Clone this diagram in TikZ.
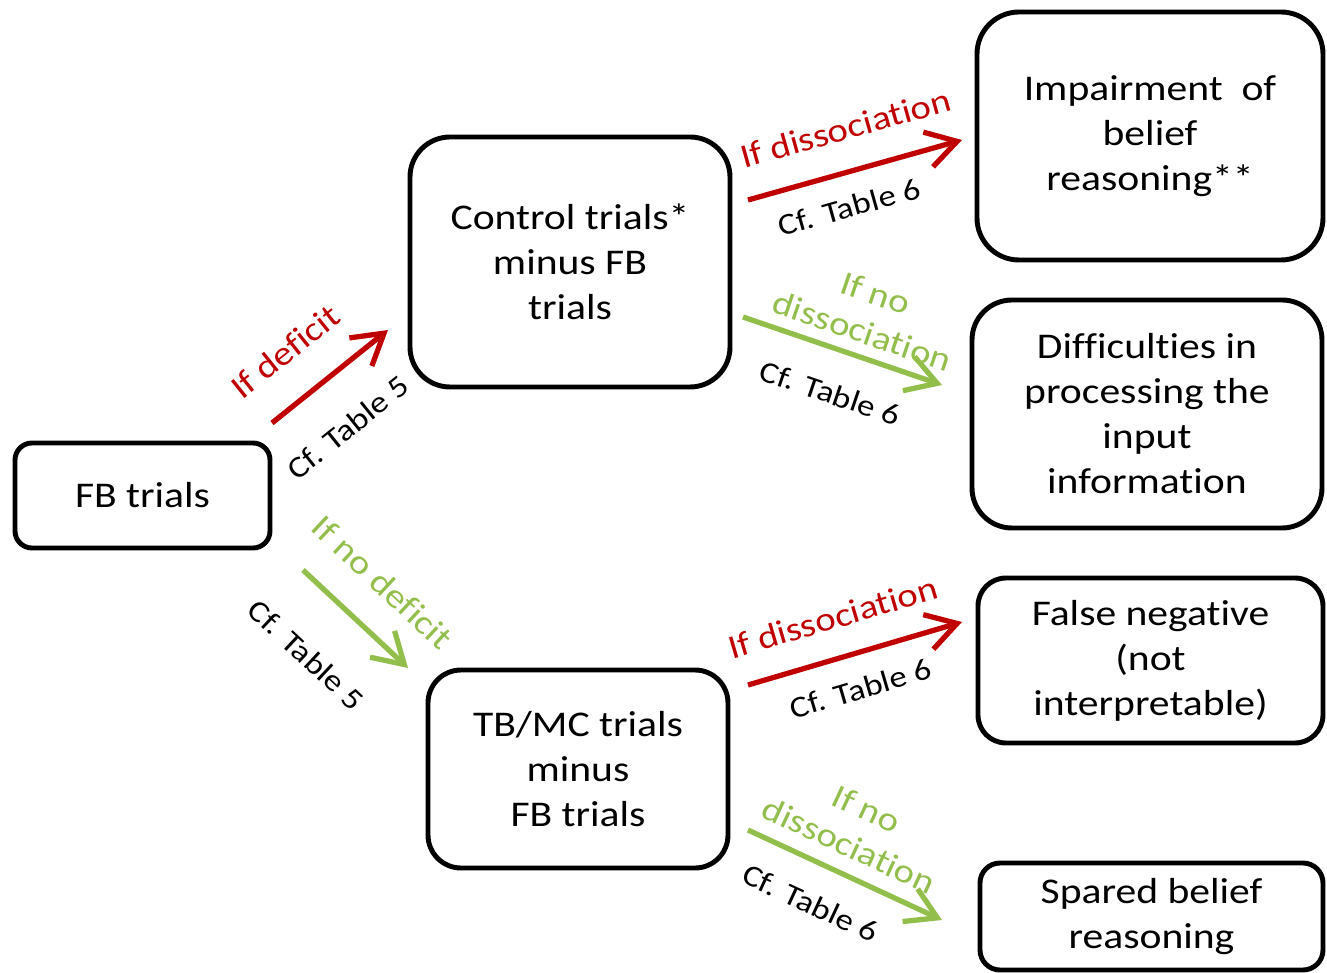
\documentclass[tikz,border=0pt]{standalone}
\usepackage{fontspec}
\setmainfont{Carlito}[FakeStretch=1.15, Ligatures=NoCommon]
\usepackage{tikz}
\usetikzlibrary{arrows.meta}
\definecolor{fbred}{RGB}{192,0,0}
\definecolor{fbgreen}{RGB}{146,190,76}
\tikzstyle{rbox} = [draw, line width=1.4pt, align=center, inner sep=0pt, font=\fontsize{10.3}{12.8}\selectfont]
\tikzstyle{redarrow} = [line width=1.5pt, color=fbred, -{Straight Barb[length=3mm,width=3.6mm]}]
\tikzstyle{greenarrow} = [line width=1.5pt, color=fbgreen, -{Straight Barb[length=3mm,width=3.6mm]}]
\tikzstyle{lab} = [sloped, align=center, inner sep=0pt, font=\fontsize{9.6}{11.5}\selectfont]
\tikzstyle{cflab} = [sloped, inner sep=0pt, text=black, font=\fontsize{8.6}{10}\selectfont]

\begin{document}
\begin{tikzpicture}
\useasboundingbox (0,0) rectangle (13.27,9.72);

% Boxes
\node[rbox, rounded corners=0.17cm, minimum width=2.55cm, minimum height=1.05cm] (fb) at (1.425,4.765) {FB trials};
\node[rbox, rounded corners=0.4cm, minimum width=3.2cm, minimum height=2.5cm] (ctrl) at (5.70,7.10) {Control trials*\\minus FB\\trials};
\node[rbox, rounded corners=0.33cm, minimum width=3.0cm, minimum height=1.98cm] (tbmc) at (5.78,2.03) {TB/MC trials\\minus\\FB trials};
\node[rbox, rounded corners=0.42cm, minimum width=3.46cm, minimum height=2.48cm] (imp) at (11.50,8.36) {Impairment~ of\\belief\\reasoning**};
\node[rbox, rounded corners=0.4cm, minimum width=3.5cm, minimum height=2.28cm] (diff) at (11.47,5.58) {Difficulties in\\processing the\\input\\information};
\node[rbox, rounded corners=0.28cm, minimum width=3.45cm, minimum height=1.65cm] (fneg) at (11.505,3.115) {False negative\\(not\\interpretable)};
\node[rbox, rounded corners=0.2cm, minimum width=3.43cm, minimum height=1.07cm] (spared) at (11.515,0.555) {Spared belief\\reasoning};

% Arrow ends
\coordinate (defs) at (2.72,5.49);  \coordinate (defe) at (3.88,6.42);
\coordinate (ndefs) at (3.03,4.02); \coordinate (ndefe) at (4.08,3.04);
\coordinate (diss) at (7.48,7.72);  \coordinate (disse) at (9.62,8.32);
\coordinate (ndiss) at (7.43,6.55); \coordinate (ndisse) at (9.42,5.87);
\coordinate (fnegs) at (7.48,2.87); \coordinate (fnege) at (9.62,3.50);
\coordinate (spars) at (7.48,1.42); \coordinate (spare) at (9.42,0.52);

% Arrows from FB trials
\draw[redarrow] (defs) -- node[lab, pos=0.37, yshift=13.5pt, text=fbred] {If deficit}
  node[cflab, pos=0.38, yshift=-14.5pt] {Cf. Table 5} (defe);
\draw[greenarrow] (ndefs) -- node[lab, pos=0.46, yshift=12.9pt, text=fbgreen] {If no deficit}
  node[cflab, pos=0.42, yshift=-17pt] {Cf. Table 5} (ndefe);

% Arrows from the difference scores
\draw[redarrow] (diss) -- node[lab, pos=0.51, yshift=12.2pt, text=fbred] {If dissociation}
  node[cflab, pos=0.43, yshift=-9.7pt] {Cf. Table 6} (disse);
\draw[greenarrow] (ndiss) -- node[lab, pos=0.56, yshift=12.9pt, text=fbgreen] {If no\\dissociation}
  node[cflab, pos=0.51, yshift=-12.4pt] {Cf. Table 6} (ndisse);
\draw[redarrow] (fnegs) -- node[lab, pos=0.45, yshift=11.6pt, text=fbred] {If dissociation}
  node[cflab, pos=0.48, yshift=-10pt] {Cf. Table 6} (fnege);
\draw[greenarrow] (spars) -- node[lab, pos=0.46, yshift=13.9pt, text=fbgreen] {If no\\dissociation}
  node[cflab, pos=0.41, yshift=-11.4pt] {Cf. Table 6} (spare);
\end{tikzpicture}
\end{document}
